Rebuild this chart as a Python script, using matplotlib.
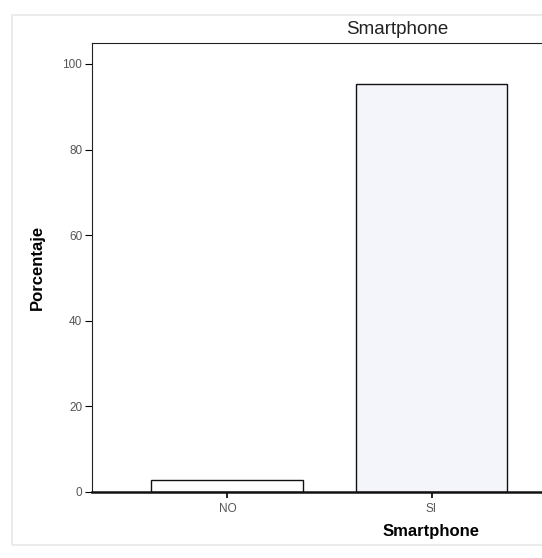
"""SPSS-style bar chart: percentage of respondents with a smartphone."""

import matplotlib

matplotlib.use("Agg")
import matplotlib.pyplot as plt
from matplotlib.patches import Rectangle

plt.rcParams["font.family"] = ["Liberation Sans", "DejaVu Sans"]

categories = ["NO", "SI"]
percentages = [2.8, 95.3]
bar_colors = ["#ffffff", "#f3f5fa"]
y_ticks = [0, 20, 40, 60, 80, 100]

W, H = 542, 558
fig = plt.figure(figsize=(W / 100, H / 100), dpi=100)
fig.patch.set_facecolor("white")

# axes runs past the right edge of the picture (third slot is cut off, as in the source)
left, right, top, bottom = 92, 771, 43, 492
ax = fig.add_axes([left / W, 1 - bottom / H, (right - left) / W, (bottom - top) / H])

ax.bar(range(len(categories)), percentages, width=0.745, color=bar_colors,
       edgecolor="#111111", linewidth=1.0, zorder=2)
ax.set_xlim(-0.664, 2.664)
ax.set_ylim(0, 104.9)

ax.set_yticks(y_ticks)
ax.set_yticklabels([str(t) for t in y_ticks], fontsize=8.5, color="#555555")
ax.set_xticks(range(len(categories)))
ax.set_xticklabels(categories, fontsize=8.5, color="#555555")
ax.tick_params(axis="y", length=5, width=0.8, pad=2)
ax.tick_params(axis="x", length=4, width=1.2, pad=4)

for side in ("left", "top", "right"):
    ax.spines[side].set_linewidth(0.8)
    ax.spines[side].set_color("#222222")
ax.spines["bottom"].set_linewidth(1.8)
ax.spines["bottom"].set_color("#111111")

ax.set_ylabel("Porcentaje", fontsize=12, fontweight="bold")
ax.yaxis.set_label_coords((45 - left) / (right - left), 0.50)
ax.set_xlabel("Smartphone", fontsize=12, fontweight="bold")
ax.xaxis.set_label_coords(0.5, -(524 - bottom) / (bottom - top))

fig.text(397 / W, 1 - 29 / H, "Smartphone", fontsize=13.5, ha="center", va="center",
         color="#222222")

# faint outer frame of the original chart window
fig.patches.append(Rectangle((12 / W, 1 - 545 / H), 1.0, 530 / H, transform=fig.transFigure,
                             fill=False, edgecolor="#e8e8e8", linewidth=1.2))

fig.savefig("out.png", dpi=100)
